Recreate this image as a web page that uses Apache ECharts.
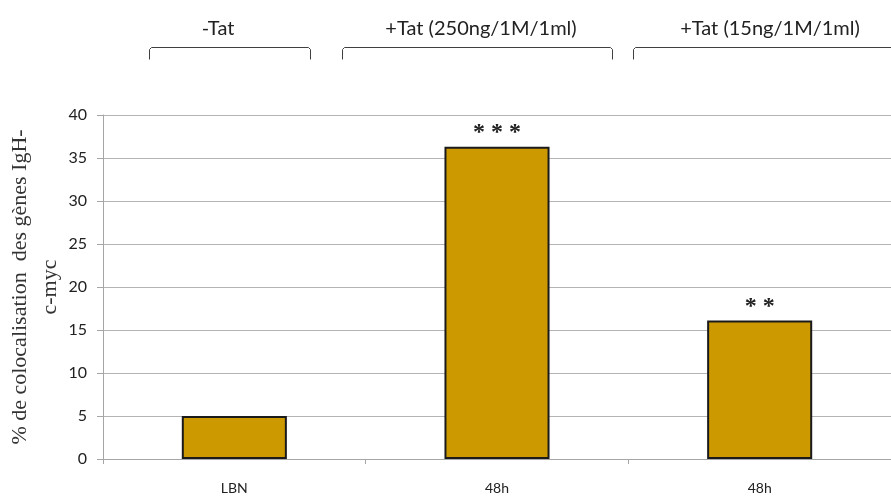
<!DOCTYPE html>
<html><head><meta charset="utf-8">
<script src="https://cdn.jsdelivr.net/npm/echarts@6/dist/echarts.min.js"></script>
<style>html,body{margin:0;padding:0;background:#fff}#c{width:891px;height:496px}</style>
</head><body><div id="c"></div>
<script>
const categories = ['LBN', '48h', '48h'];
const values = [5, 36.3, 16.1];
const stars = ['', '* * *', '* *'];
const groupLabels = ['-Tat', '+Tat (250ng/1M/1ml)', '+Tat (15ng/1M/1ml)'];
const yTicks = [0, 5, 10, 15, 20, 25, 30, 35, 40];

const chart = echarts.init(document.getElementById('c'));
function bracket(x1, x2, y) {
  return {type:'polyline', shape:{points:[[x1,y+12],[x1,y+2],[x1+2,y],[x2-2,y],[x2,y+2],[x2,y+12]]},
    style:{stroke:'#404040', lineWidth:1, fill:null}};
}
const brackets = [[149,310],[342,612],[633,893]];
const labelCx = [218, 481, 770];
const graphics = [];
brackets.forEach((b,i)=>{
  graphics.push(bracket(b[0]+0.5,b[1]+0.5,47.5));
  graphics.push({type:'text', x:labelCx[i], y:29, style:{text:groupLabels[i], font:'20px Lato, "Open Sans", sans-serif', fill:'#222', align:'center', verticalAlign:'middle'}});
});
chart.setOption({
  animation:false,
  grid:{left:103, right:0, top:115, bottom:37, outerBoundsMode:'none', containLabel:false},
  graphic:graphics,
  xAxis:{type:'category', data:categories, boundaryGap:true,
    axisLine:{lineStyle:{color:'#a6a6a6', width:1}},
    axisTick:{show:true, length:5, lineStyle:{color:'#a6a6a6'}},
    axisLabel:{margin:22, fontSize:14, color:'#222', fontFamily:'Lato, "Open Sans", sans-serif'}},
  yAxis:{type:'value', min:yTicks[0], max:yTicks[yTicks.length-1], interval:5,
    name:'% de colocalisation  des gènes IgH-\nc-myc', nameLocation:'middle', nameRotate:90, nameGap:38,
    nameMoveOverlap:false,
    nameTextStyle:{fontFamily:'"Liberation Serif", serif', fontSize:22, color:'#333', lineHeight:30},
    axisLine:{show:true, lineStyle:{color:'#a6a6a6'}},
    axisTick:{show:true, length:6, lineStyle:{color:'#a6a6a6'}},
    splitLine:{lineStyle:{color:'#b4b4b4'}},
    axisLabel:{margin:16, fontSize:16, color:'#222', fontFamily:'Lato, "Open Sans", sans-serif'}},
  series:[{type:'bar', data:values, barWidth:'40%',
    itemStyle:{color:'#CC9900', borderColor:'#1a1a1a', borderWidth:2},
    label:{show:true, position:'top', distance:2, formatter:p=>stars[p.dataIndex],
      fontSize:24, fontWeight:'bold', color:'#222', fontFamily:'"Liberation Serif", serif'}}]
});
</script></body></html>
